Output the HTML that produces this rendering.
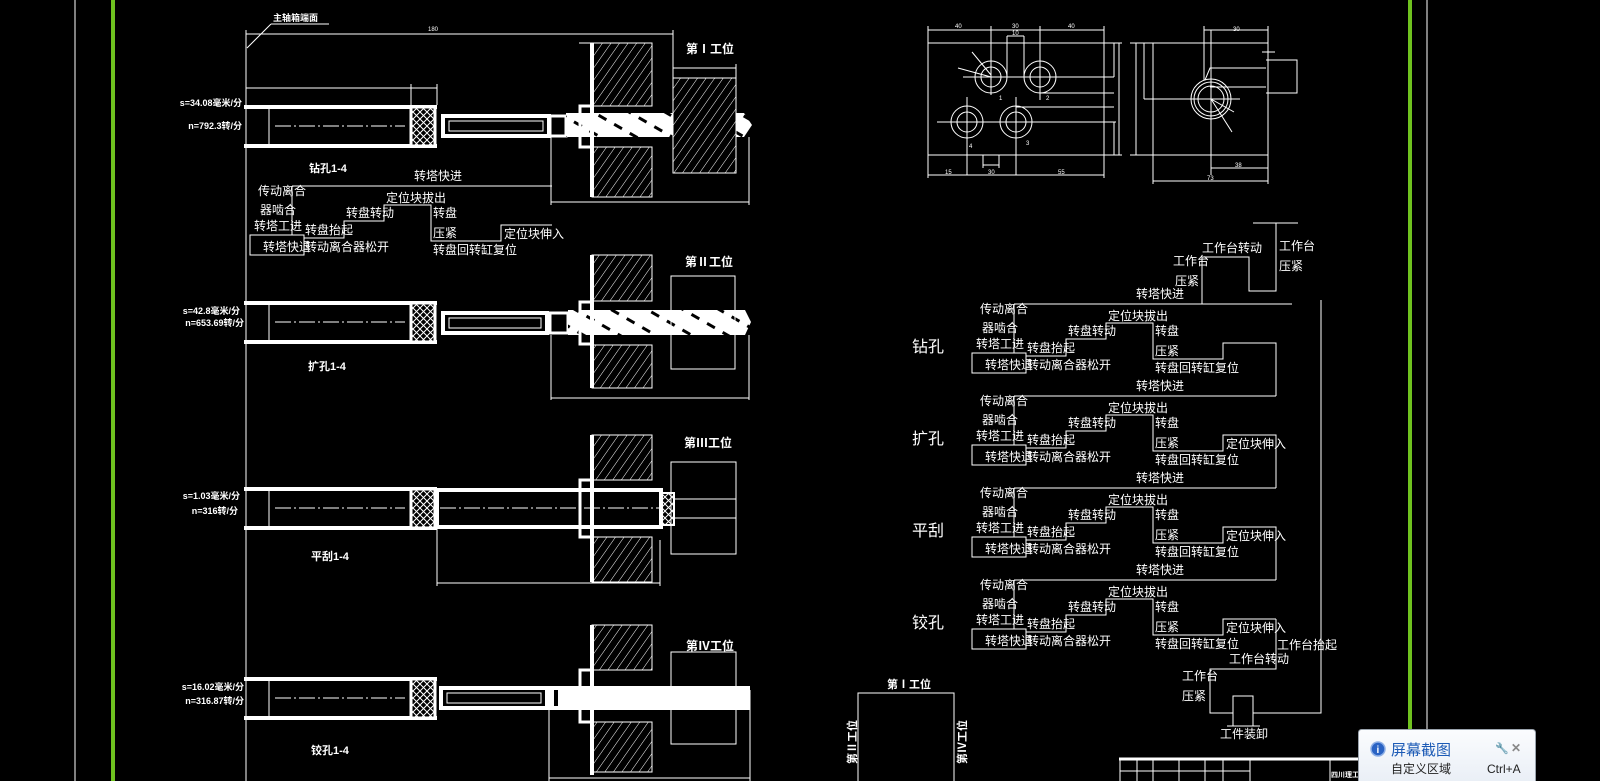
<!DOCTYPE html>
<html><head><meta charset="utf-8">
<style>
html,body{margin:0;padding:0;background:#000;}
svg{display:block}
text{font-family:"Liberation Sans","Noto Sans CJK SC",sans-serif;fill:#fff;}
.t{font-size:12px;}
.b{font-size:11px;font-weight:bold;}
.s{font-size:6px;}
</style></head><body>
<svg width="1600" height="781" viewBox="0 0 1600 781" xmlns="http://www.w3.org/2000/svg">
<defs>
<pattern id="hh" width="7" height="7" patternUnits="userSpaceOnUse" patternTransform="rotate(35)">
<rect width="7" height="7" fill="#000"/><line x1="0" y1="0" x2="0" y2="7" stroke="#fff" stroke-width="1"/></pattern>
<pattern id="xh" width="7" height="7" patternUnits="userSpaceOnUse">
<rect width="7" height="7" fill="#000"/><path d="M0,0L7,7M7,0L0,7" stroke="#fff" stroke-width="1"/></pattern>
<pattern id="sp" width="18" height="18" patternUnits="userSpaceOnUse" patternTransform="rotate(-60)">
<rect width="18" height="18" fill="#fff"/><rect width="3" height="9" fill="#000"/></pattern>
<g id="spindle">
<rect x="244" y="0" width="193" height="4" fill="#fff"/>
<rect x="244" y="39" width="193" height="4" fill="#fff"/>
<line x1="269" y1="4" x2="269" y2="39" stroke="#fff"/>
<rect x="411" y="2" width="24" height="39" fill="url(#xh)" stroke="#fff" stroke-width="3"/>
<line x1="275" y1="21" x2="405" y2="21" stroke="#fff" stroke-dasharray="16 3 2 3"/>
</g>
</defs>
<g fill="none" stroke="#fff" stroke-width="1">
<line x1="75" y1="0" x2="75" y2="781"/>
<line x1="1427" y1="0" x2="1427" y2="781"/>
<line x1="246" y1="30" x2="246" y2="781"/>
</g>
<rect x="111" y="0" width="4" height="781" fill="#6fc21f"/>
<rect x="1408" y="0" width="4" height="781" fill="#6fc21f"/>

<text x="273" y="21" class="b" style="font-size:9px">主轴箱端面</text>
<g fill="none" stroke="#fff">
<path d="M271,24H329M271,24L247,48"/>
<path d="M246,34H673M673,30V78"/>
<path d="M246,88H437M411,84V105M437,84V105"/>
</g>
<text x="428" y="31" class="s">180</text>

<!-- STATION 1 -->
<use href="#spindle" y="105"/>
<g fill="none" stroke="#fff">
<rect x="443" y="116" width="106" height="20" stroke-width="4"/>
<rect x="449" y="121" width="94" height="10"/>
<rect x="550" y="116" width="16" height="20" stroke-width="3"/>
</g>
<polygon points="566,113 744,113 752,125 744,137 566,137" fill="url(#sp)"/>
<rect x="592" y="43" width="60" height="63" fill="url(#hh)" stroke="#fff"/>
<rect x="592" y="147" width="60" height="50" fill="url(#hh)" stroke="#fff"/>
<rect x="590" y="43" width="4" height="154" fill="#fff"/>
<rect x="580" y="106" width="12" height="41" fill="none" stroke="#fff" stroke-width="3"/>
<rect x="673" y="78" width="63" height="95" fill="url(#hh)" stroke="#fff"/>
<g fill="none" stroke="#fff">
<path d="M673,68H736M736,64V113M579,43H652M551,137V205M551,202H749M749,137V205"/>
</g>
<text x="686" y="53" class="b" style="font-size:12px">第Ⅰ工位</text>
<text x="242" y="106" class="b" style="font-size:9px" text-anchor="end">s=34.08毫米/分</text>
<text x="242" y="129" class="b" style="font-size:9px" text-anchor="end">n=792.3转/分</text>
<text x="309" y="172" class="b">钻孔1-4</text>

<!-- STATION 2 -->
<use href="#spindle" y="301"/>
<g fill="none" stroke="#fff">
<rect x="443" y="313" width="104" height="20" stroke-width="4"/>
<rect x="449" y="318" width="92" height="10"/>
<rect x="550" y="313" width="18" height="20" stroke-width="3"/>
</g>
<polygon points="568,310 745,310 751,322 745,335 568,335" fill="url(#sp)"/>
<rect x="592" y="255" width="60" height="46" fill="url(#hh)" stroke="#fff"/>
<rect x="592" y="345" width="60" height="43" fill="url(#hh)" stroke="#fff"/>
<rect x="590" y="255" width="4" height="133" fill="#fff"/>
<rect x="580" y="302" width="12" height="42" fill="none" stroke="#fff" stroke-width="3"/>
<rect x="671" y="276" width="64" height="93" fill="none" stroke="#fff"/>
<path d="M551,335V400M551,398H749M749,335V400" fill="none" stroke="#fff"/>
<text x="685" y="266" class="b" style="font-size:12px">第Ⅱ工位</text>
<text x="240" y="314" class="b" style="font-size:9px" text-anchor="end">s=42.8毫米/分</text>
<text x="244" y="326" class="b" style="font-size:9px" text-anchor="end">n=653.69转/分</text>
<text x="308" y="370" class="b">扩孔1-4</text>

<!-- STATION 3 -->
<use href="#spindle" y="487"/>
<rect x="437" y="490" width="224" height="37" fill="none" stroke="#fff" stroke-width="4"/>
<line x1="440" y1="508" x2="660" y2="508" stroke="#fff" stroke-dasharray="16 3 2 3"/>
<rect x="592" y="435" width="60" height="45" fill="url(#hh)" stroke="#fff"/>
<rect x="592" y="537" width="60" height="45" fill="url(#hh)" stroke="#fff"/>
<rect x="590" y="435" width="4" height="147" fill="#fff"/>
<rect x="580" y="480" width="12" height="57" fill="none" stroke="#fff" stroke-width="3"/>
<rect x="662" y="493" width="12" height="32" fill="url(#xh)" stroke="#fff" stroke-width="2"/>
<g fill="none" stroke="#fff">
<rect x="671" y="462" width="65" height="92"/>
<path d="M674,499H736M674,518H736M437,527V586M437,583H660M660,540V586"/>
</g>
<text x="684" y="447" class="b" style="font-size:12px">第Ⅲ工位</text>
<text x="240" y="499" class="b" style="font-size:9px" text-anchor="end">s=1.03毫米/分</text>
<text x="238" y="514" class="b" style="font-size:9px" text-anchor="end">n=316转/分</text>
<text x="311" y="560" class="b">平刮1-4</text>

<!-- STATION 4 -->
<use href="#spindle" y="677"/>
<g fill="none" stroke="#fff">
<rect x="441" y="688" width="106" height="20" stroke-width="4"/>
<rect x="447" y="693" width="94" height="10"/>
</g>
<rect x="549" y="686" width="201" height="24" fill="#fff"/>
<rect x="554" y="690" width="4" height="16" fill="#000"/>
<rect x="592" y="625" width="60" height="45" fill="url(#hh)" stroke="#fff"/>
<rect x="592" y="722" width="60" height="50" fill="url(#hh)" stroke="#fff"/>
<rect x="590" y="625" width="4" height="150" fill="#fff"/>
<rect x="580" y="670" width="12" height="52" fill="none" stroke="#fff" stroke-width="3"/>
<g fill="none" stroke="#fff">
<rect x="671" y="652" width="65" height="92"/>
<path d="M750,690V713M549,710V781M549,778H750M750,713V781"/>
</g>
<text x="686" y="650" class="b" style="font-size:12px">第Ⅳ工位</text>
<text x="244" y="690" class="b" style="font-size:9px" text-anchor="end">s=16.02毫米/分</text>
<text x="244" y="704" class="b" style="font-size:9px" text-anchor="end">n=316.87转/分</text>
<text x="311" y="754" class="b">铰孔1-4</text>

<!-- left diagram -->
<g transform="translate(-722,-118)">
<g fill="none" stroke="#fff">
<path d="M1014,304H1274M1014,304V353M1026,356H1066V339H1106V323H1153V359H1223V343H1274"/>
<rect x="972" y="353" width="54" height="20"/>
</g>
<g class="t">
<text x="1136" y="298">转塔快进</text>
<text x="980" y="313">传动离合</text><text x="982" y="332">器啮合</text><text x="976" y="348">转塔工进</text>
<text x="985" y="369">转塔快退</text><text x="1027" y="369">转动离合器松开</text><text x="1027" y="352">转盘抬起</text>
<text x="1068" y="335">转盘转动</text><text x="1108" y="320">定位块拔出</text><text x="1155" y="335">转盘</text>
<text x="1155" y="355">压紧</text><text x="1155" y="372">转盘回转缸复位</text><text x="1226" y="356">定位块伸入</text>
</g></g>

<g>
<g fill="none" stroke="#fff">
<path d="M1014,304H1292M1014,304V353M1026,356H1066V339H1106V323H1153V359H1223V343H1276V396"/>
<rect x="972" y="353" width="54" height="20"/>
</g>
<g class="t">
<text x="1136" y="298">转塔快进</text>
<text x="980" y="313">传动离合</text><text x="982" y="332">器啮合</text><text x="976" y="348">转塔工进</text>
<text x="985" y="369">转塔快退</text><text x="1027" y="369">转动离合器松开</text><text x="1027" y="352">转盘抬起</text>
<text x="1068" y="335">转盘转动</text><text x="1108" y="320">定位块拔出</text><text x="1155" y="335">转盘</text>
<text x="1155" y="355">压紧</text><text x="1155" y="372">转盘回转缸复位</text>
</g></g>
<g transform="translate(0,92)">
<g fill="none" stroke="#fff">
<path d="M1014,304H1276M1014,304V353M1026,356H1066V339H1106V323H1153V359H1223V343H1276V396"/>
<rect x="972" y="353" width="54" height="20"/>
</g>
<g class="t">
<text x="1136" y="298">转塔快进</text>
<text x="980" y="313">传动离合</text><text x="982" y="332">器啮合</text><text x="976" y="348">转塔工进</text>
<text x="985" y="369">转塔快退</text><text x="1027" y="369">转动离合器松开</text><text x="1027" y="352">转盘抬起</text>
<text x="1068" y="335">转盘转动</text><text x="1108" y="320">定位块拔出</text><text x="1155" y="335">转盘</text>
<text x="1155" y="355">压紧</text><text x="1155" y="372">转盘回转缸复位</text><text x="1226" y="356">定位块伸入</text>
</g></g>
<g transform="translate(0,184)">
<g fill="none" stroke="#fff">
<path d="M1014,304H1276M1014,304V353M1026,356H1066V339H1106V323H1153V359H1223V343H1276V396"/>
<rect x="972" y="353" width="54" height="20"/>
</g>
<g class="t">
<text x="1136" y="298">转塔快进</text>
<text x="980" y="313">传动离合</text><text x="982" y="332">器啮合</text><text x="976" y="348">转塔工进</text>
<text x="985" y="369">转塔快退</text><text x="1027" y="369">转动离合器松开</text><text x="1027" y="352">转盘抬起</text>
<text x="1068" y="335">转盘转动</text><text x="1108" y="320">定位块拔出</text><text x="1155" y="335">转盘</text>
<text x="1155" y="355">压紧</text><text x="1155" y="372">转盘回转缸复位</text><text x="1226" y="356">定位块伸入</text>
</g></g>
<g transform="translate(0,276)">
<g fill="none" stroke="#fff">
<path d="M1014,304H1276M1014,304V353M1026,356H1066V339H1106V323H1153V359H1223V343H1276"/>
<rect x="972" y="353" width="54" height="20"/>
</g>
<g class="t">
<text x="1136" y="298">转塔快进</text>
<text x="980" y="313">传动离合</text><text x="982" y="332">器啮合</text><text x="976" y="348">转塔工进</text>
<text x="985" y="369">转塔快退</text><text x="1027" y="369">转动离合器松开</text><text x="1027" y="352">转盘抬起</text>
<text x="1068" y="335">转盘转动</text><text x="1108" y="320">定位块拔出</text><text x="1155" y="335">转盘</text>
<text x="1155" y="355">压紧</text><text x="1155" y="372">转盘回转缸复位</text><text x="1226" y="356">定位块伸入</text>
</g></g>
<g style="font-size:16px">
<text x="912" y="352">钻孔</text><text x="912" y="444">扩孔</text><text x="912" y="536">平刮</text><text x="912" y="628">铰孔</text>
</g>
<g fill="none" stroke="#fff">
<path d="M1202,304V257H1249V291H1276V223M1253,223H1298"/>
<path d="M1276,619V669H1210V713H1233M1253,713H1321V300"/>
<rect x="1233" y="696" width="20" height="30"/>
<path d="M1227,726H1260"/>
</g>
<g class="t">
<text x="1173" y="265">工作台</text><text x="1175" y="285">压紧</text><text x="1202" y="252">工作台转动</text>
<text x="1279" y="250">工作台</text><text x="1279" y="270">压紧</text>
<text x="1277" y="649">工作台抬起</text><text x="1229" y="663">工作台转动</text>
<text x="1182" y="680">工作台</text><text x="1182" y="700">压紧</text><text x="1220" y="738">工件装卸</text>
</g>

<rect x="858" y="693" width="96" height="100" fill="none" stroke="#fff"/>
<text x="887" y="688" class="b">第Ⅰ工位</text>
<text class="b" transform="translate(856,764) rotate(-90)">第Ⅱ工位</text>
<text class="b" transform="translate(966,764) rotate(-90)">第Ⅳ工位</text>

<!-- top-right part drawings -->
<g fill="none" stroke="#fff">
<rect x="928" y="43" width="176" height="112"/>
<path d="M928,30H1104M928,26V43M991,26V43M1040,26V43M1104,26V43M1007,36H1024M1007,36V77M1024,36V77"/>
<circle cx="991" cy="77" r="16"/><circle cx="991" cy="77" r="10"/>
<circle cx="1040" cy="77" r="16"/><circle cx="1040" cy="77" r="10"/>
<circle cx="967" cy="122" r="16"/><circle cx="967" cy="122" r="10"/>
<circle cx="1016" cy="122" r="16"/><circle cx="1016" cy="122" r="10"/>
<path d="M963,77H1114M937,122H1116M991,30V95M1040,30V100M967,97V175M1016,97V175"/>
<path d="M1040,93H1114M1016,107H1114M1114,43V77M1119,43V155M1110,122H1114V155M1104,43H1122M1104,155H1122"/>
<path d="M983,165H999M983,155V168M999,155V168M928,175H1104M928,155V178M1104,155V178"/>
<path d="M991,75L972,52M991,77L958,68"/>
<rect x="1153" y="43" width="115" height="112"/>
<path d="M1136,43V155M1144,43V99M1130,43H1153M1130,155H1153"/>
<circle cx="1211" cy="99" r="20"/><circle cx="1211" cy="99" r="17"/><circle cx="1211" cy="99" r="13"/>
<path d="M1205,80L1210,68H1266M1210,87H1266M1266,60H1297V93H1266M1204,30H1268M1204,26V80M1268,26V43"/>
<path d="M1144,99H1240M1211,30V175M1211,168H1268M1153,181H1268M1153,155V184M1268,155V184"/>
<path d="M1211,99L1232,132M1211,99L1234,112M1262,52H1275"/>
</g>
<g class="s">
<text x="955" y="28">40</text><text x="1012" y="28">30</text><text x="1068" y="28">40</text>
<text x="1012" y="35">10</text><text x="999" y="100">1</text><text x="1046" y="100">2</text>
<text x="969" y="148">4</text><text x="1026" y="145">3</text>
<text x="945" y="174">15</text><text x="988" y="174">30</text><text x="1058" y="174">55</text>
<text x="1233" y="31">30</text><text x="1235" y="167">38</text><text x="1207" y="180">73</text>
</g>

<g fill="none" stroke="#fff">
<path d="M1119,759H1408" stroke-width="3"/>
<path d="M1120,759V781M1137,759V781M1153,759V781M1179,759V781M1205,759V781M1223,759V781M1250,759V781M1330,759V781M1120,771H1250"/>
</g>
<text x="1331" y="777" class="b" style="font-size:7px">四川理工</text>

<defs><linearGradient id="pg" x1="0" y1="0" x2="0" y2="1"><stop offset="0" stop-color="#fbfcfe"/><stop offset="1" stop-color="#e7edf5"/></linearGradient></defs>
<rect x="1358.5" y="729.5" width="177" height="60" rx="3" fill="url(#pg)" stroke="#9aa3ad"/>
<circle cx="1378" cy="749" r="7" fill="#2a63c4" stroke="#8fb0e6" stroke-width="1.5"/>
<text x="1376.5" y="753" style="font-size:10px;font-weight:bold;fill:#fff">i</text>
<text x="1391" y="755" style="font-size:15px;fill:#1d5bb6">屏幕截图</text>
<text x="1495" y="752" style="font-size:11px;fill:#888">🔧</text>
<text x="1511" y="752" style="font-size:12px;font-weight:bold;fill:#888">✕</text>
<text x="1391" y="773" style="font-size:12px;fill:#222">自定义区域</text>
<text x="1487" y="773" style="font-size:12px;fill:#222">Ctrl+A</text>
</svg>
</body></html>
